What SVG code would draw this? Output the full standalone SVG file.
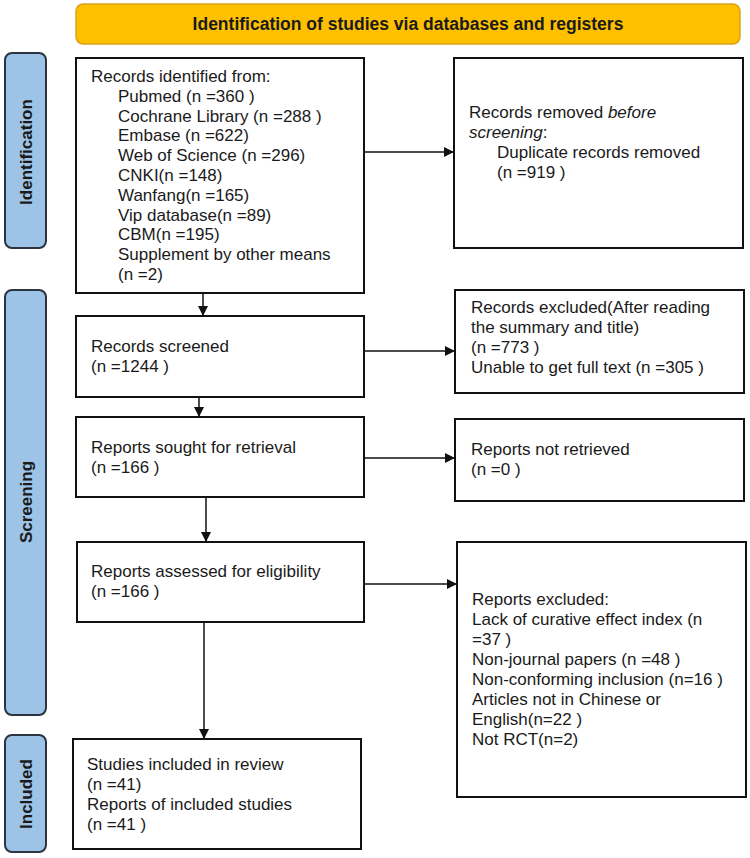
<svg xmlns="http://www.w3.org/2000/svg" width="750" height="858" viewBox="0 0 750 858">
<style>
.box{fill:#fff;stroke:#111;stroke-width:2}
.side{fill:#9DC3E6;stroke:#2B3441;stroke-width:2}
.t{font-family:"Liberation Sans",Arial,sans-serif;font-size:17px;fill:#1a1a1a}
.b{font-family:"Liberation Sans",Arial,sans-serif;font-size:17px;font-weight:bold;fill:#1a1a1a}
.c{stroke:#111;stroke-width:1.5;fill:none;marker-end:url(#ah)}
</style>
<defs>
<marker id="ah" viewBox="0 0 10 10" refX="10" refY="5" markerWidth="10" markerHeight="10" markerUnits="userSpaceOnUse" orient="auto">
<path d="M0,0 L10,5 L0,10 z" fill="#111"/>
</marker>
</defs>
<g id="header">
<rect x="76" y="4" width="664" height="40" rx="7" fill="#FFC000" stroke="#D9A21B" stroke-width="1.5"/>
<text class="b" x="408" y="30" text-anchor="middle" style="font-size:17.5px">Identification of studies via databases and registers</text>
</g>
<g id="side-identification">
<rect class="side" x="5" y="53" width="41" height="195" rx="7"/>
<text class="b" transform="translate(32,152) rotate(-90)" text-anchor="middle">Identification</text>
</g>
<g id="side-screening">
<rect class="side" x="5" y="290" width="41" height="425" rx="7"/>
<text class="b" transform="translate(32,502) rotate(-90)" text-anchor="middle">Screening</text>
</g>
<g id="side-included">
<rect class="side" x="5" y="735" width="41" height="117" rx="7"/>
<text class="b" transform="translate(32,794) rotate(-90)" text-anchor="middle">Included</text>
</g>
<g id="records-identified">
<rect class="box" x="76" y="58" width="288" height="235"/>
<text class="t" x="91" y="82">Records identified from:</text>
<text class="t" x="118" y="101.8">Pubmed (n =360 )</text>
<text class="t" x="118" y="121.6">Cochrane Library (n =288 )</text>
<text class="t" x="118" y="141.4">Embase (n =622)</text>
<text class="t" x="118" y="161.2">Web of Science (n =296)</text>
<text class="t" x="118" y="181">CNKI(n =148)</text>
<text class="t" x="118" y="200.8">Wanfang(n =165)</text>
<text class="t" x="118" y="220.6">Vip database(n =89)</text>
<text class="t" x="118" y="240.4">CBM(n =195)</text>
<text class="t" x="118" y="260.2">Supplement by other means</text>
<text class="t" x="118" y="280">(n =2)</text>
</g>
<g id="records-removed">
<rect class="box" x="454" y="58" width="289" height="190"/>
<text class="t" x="469" y="118">Records removed <tspan font-style="italic">before</tspan></text>
<text class="t" x="469" y="138"><tspan font-style="italic">screening</tspan>:</text>
<text class="t" x="497" y="158">Duplicate records removed</text>
<text class="t" x="497" y="178">(n =919 )</text>
</g>
<g id="records-screened">
<rect class="box" x="76" y="316" width="288" height="81"/>
<text class="t" x="91" y="352">Records screened</text>
<text class="t" x="91" y="372">(n =1244 )</text>
</g>
<g id="records-excluded">
<rect class="box" x="455" y="290" width="289" height="103"/>
<text class="t" x="471" y="313">Records excluded(After reading</text>
<text class="t" x="471" y="333">the summary and title)</text>
<text class="t" x="471" y="353">(n =773 )</text>
<text class="t" x="471" y="373">Unable to get full text (n =305 )</text>
</g>
<g id="reports-sought">
<rect class="box" x="76" y="417" width="288" height="80"/>
<text class="t" x="91" y="453">Reports sought for retrieval</text>
<text class="t" x="91" y="473">(n =166 )</text>
</g>
<g id="reports-not-retrieved">
<rect class="box" x="455" y="419" width="289" height="82"/>
<text class="t" x="471" y="455">Reports not retrieved</text>
<text class="t" x="471" y="475">(n =0 )</text>
</g>
<g id="reports-assessed">
<rect class="box" x="77" y="542" width="287" height="80"/>
<text class="t" x="91" y="577">Reports assessed for eligibility</text>
<text class="t" x="91" y="597">(n =166 )</text>
</g>
<g id="reports-excluded">
<rect class="box" x="457" y="542" width="289" height="255"/>
<text class="t" x="472" y="605">Reports excluded:</text>
<text class="t" x="472" y="625">Lack of curative effect index (n</text>
<text class="t" x="472" y="645">=37 )</text>
<text class="t" x="472" y="665">Non-journal papers (n =48 )</text>
<text class="t" x="472" y="685">Non-conforming inclusion (n=16 )</text>
<text class="t" x="472" y="705">Articles not in Chinese or</text>
<text class="t" x="472" y="725">English(n=22 )</text>
<text class="t" x="472" y="745">Not RCT(n=2)</text>
</g>
<g id="included-studies">
<rect class="box" x="73" y="739" width="288" height="110"/>
<text class="t" x="87" y="770">Studies included in review</text>
<text class="t" x="87" y="790">(n =41)</text>
<text class="t" x="87" y="810">Reports of included studies</text>
<text class="t" x="87" y="830">(n =41 )</text>
</g>
<g id="connectors">
<line class="c" x1="364" y1="152" x2="454" y2="152"/>
<line class="c" x1="203" y1="293" x2="203" y2="316"/>
<line class="c" x1="364" y1="351" x2="455" y2="351"/>
<line class="c" x1="199" y1="397" x2="199" y2="417"/>
<line class="c" x1="364" y1="458" x2="455" y2="458"/>
<line class="c" x1="206" y1="497" x2="206" y2="542"/>
<line class="c" x1="364" y1="584" x2="457" y2="584"/>
<line class="c" x1="204" y1="622" x2="204" y2="739"/>
</g>
</svg>
